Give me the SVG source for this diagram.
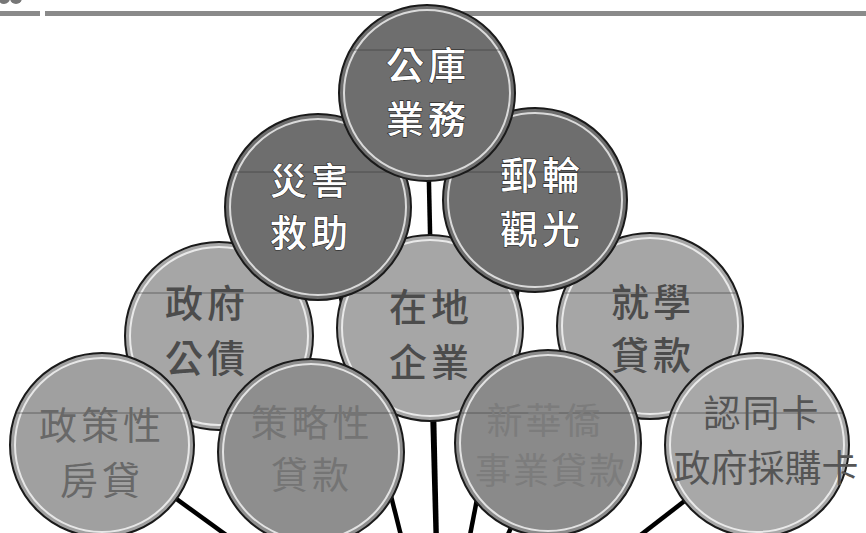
<svg xmlns="http://www.w3.org/2000/svg" width="866" height="533" viewBox="0 0 866 533">
<defs>
<style>
.bg{fill:#ffffff}
.band{fill:#8a8a8a}
.conn line{stroke:#000;stroke-width:4.5;stroke-linecap:butt}
.c{stroke:#1a1a1a;stroke-width:2}
.rim{fill:none;stroke:#ffffff;stroke-width:2;stroke-opacity:0.75}
.chord{stroke:#3a3a3a;stroke-width:1;stroke-opacity:0.6}
.dark{fill:#6e6e6e}
.mid{fill:#a6a6a6}
.t{font-family:"Noto Sans CJK TC","Noto Sans CJK SC",sans-serif;font-size:38px;text-anchor:middle;letter-spacing:4px}
.tw{fill:#ffffff;stroke:#2a2a2a;stroke-width:1.2;paint-order:stroke;font-weight:500}
.tm{fill:#4c4c4c;font-weight:500}
</style>
</defs>
<rect class="bg" x="0" y="0" width="866" height="533"/>
<circle cx="4" cy="-2" r="6" fill="#777"/>
<circle cx="16" cy="-2" r="6" fill="#777"/>
<rect class="band" x="0" y="11" width="40" height="5"/>
<rect class="band" x="45" y="11" width="821" height="5"/>

<g id="connectors" class="conn">
<line x1="440" y1="690" x2="427" y2="93"/>
<line x1="440" y1="690" x2="318" y2="207"/>
<line x1="440" y1="690" x2="535" y2="200"/>
<line x1="440" y1="690" x2="219" y2="336"/>
<line x1="440" y1="690" x2="430" y2="328"/>
<line x1="440" y1="690" x2="650" y2="326"/>
<line x1="440" y1="690" x2="102" y2="445"/>
<line x1="440" y1="690" x2="311" y2="452"/>
<line x1="440" y1="690" x2="548" y2="443"/>
<line x1="440" y1="690" x2="757" y2="445"/>
</g>

<g id="node-zhengfu-gongzhai">
<circle class="c mid" cx="219" cy="336" r="94"/>
<circle class="rim" cx="219" cy="336" r="89"/>
<line class="chord" x1="135" y1="293" x2="303" y2="293"/>
<text class="t tm" x="207" y="317">政府</text>
<text class="t tm" x="207" y="372">公債</text>
</g>
<g id="node-zaidi-qiye">
<circle class="c mid" cx="430" cy="328" r="93"/>
<circle class="rim" cx="430" cy="328" r="88"/>
<line class="chord" x1="344" y1="293" x2="516" y2="293"/>
<text class="t tm" x="431" y="321">在地</text>
<text class="t tm" x="431" y="376">企業</text>
</g>
<g id="node-jiuxue-daikuan">
<circle class="c mid" cx="650" cy="326" r="93"/>
<circle class="rim" cx="650" cy="326" r="88"/>
<line class="chord" x1="563" y1="293" x2="737" y2="293"/>
<text class="t tm" x="653" y="316">就學</text>
<text class="t tm" x="653" y="369">貸款</text>
</g>

<g id="node-zhengcexing-fangdai">
<circle class="c" fill="#a0a0a0" cx="102" cy="445" r="92"/>
<circle class="rim" cx="102" cy="445" r="87"/>
<line class="chord" x1="16" y1="413" x2="188" y2="413"/>
<text class="t" fill="#686868" x="102" y="439">政策性</text>
<text class="t" fill="#686868" x="102" y="494">房貸</text>
</g>
<g id="node-celuexing-daikuan">
<circle class="c" fill="#8e8e8e" cx="311" cy="452" r="93"/>
<circle class="rim" cx="311" cy="452" r="88"/>
<line class="chord" x1="227" y1="413" x2="395" y2="413"/>
<text class="t" fill="#747474" x="312" y="437" style="font-size:37px">策略性</text>
<text class="t" fill="#747474" x="312" y="489" style="font-size:37px">貸款</text>
</g>
<g id="node-xinhuaqiao-shiye-daikuan">
<circle class="c" fill="#8a8a8a" cx="548" cy="443" r="93"/>
<circle class="rim" cx="548" cy="443" r="88"/>
<line class="chord" x1="460" y1="413" x2="636" y2="413"/>
<text class="t" fill="#7c7c7c" x="545" y="434" style="font-size:36px;letter-spacing:3px">新華僑</text>
<text class="t" fill="#7c7c7c" x="551" y="484" style="font-size:36px;letter-spacing:2px">事業貸款</text>
</g>
<g id="node-rentongka">
<circle class="c" fill="#a8a8a8" cx="757" cy="445" r="92"/>
<circle class="rim" cx="757" cy="445" r="87"/>
<line class="chord" x1="671" y1="413" x2="843" y2="413"/>
<text class="t" fill="#555555" x="762" y="427" style="font-size:37px;letter-spacing:2px">認同卡</text>
<text class="t" fill="#555555" x="766" y="482" style="font-size:37px;letter-spacing:0px">政府採購卡</text>
</g>

<g id="node-zaihai-jiuzhu">
<circle class="c dark" cx="318" cy="207" r="93"/>
<circle class="rim" cx="318" cy="207" r="88"/>
<line class="chord" x1="232" y1="172" x2="404" y2="172"/>
<text class="t tw" x="311" y="195" style="font-size:37px">災害</text>
<text class="t tw" x="311" y="247" style="font-size:37px">救助</text>
</g>
<g id="node-youlun-guanguang">
<circle class="c dark" cx="535" cy="200" r="92"/>
<circle class="rim" cx="535" cy="200" r="87"/>
<line class="chord" x1="447" y1="172" x2="623" y2="172"/>
<text class="t tw" x="542" y="189">郵輪</text>
<text class="t tw" x="542" y="243">觀光</text>
</g>

<g id="node-gongku-yewu">
<circle class="c dark" cx="427" cy="93" r="88"/>
<circle class="rim" cx="427" cy="93" r="83"/>
<line class="chord" x1="350" y1="50" x2="504" y2="50"/>
<text class="t tw" x="428" y="79">公庫</text>
<text class="t tw" x="428" y="133">業務</text>
</g>
</svg>
